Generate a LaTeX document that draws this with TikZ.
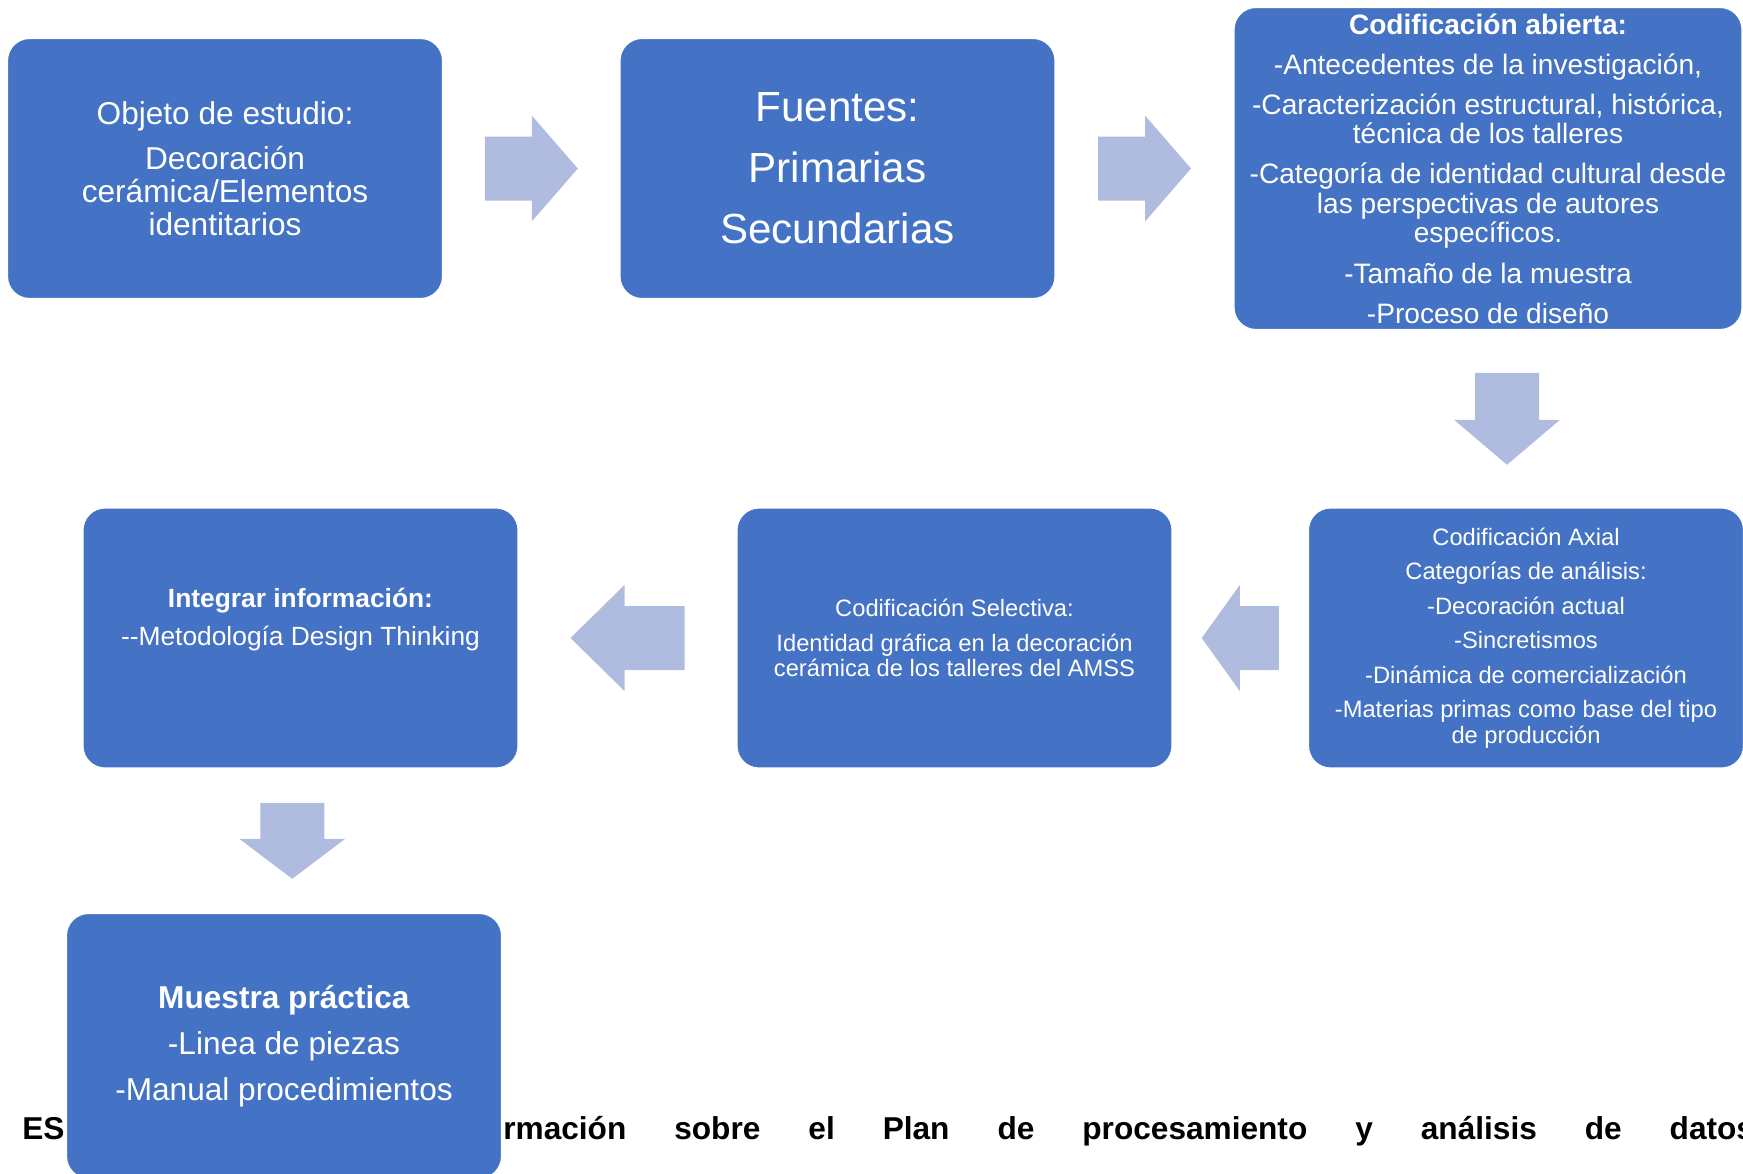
\documentclass[tikz,border=0pt]{standalone}
\usepackage{fontspec}
\setmainfont{Liberation Sans}
\usetikzlibrary{calc}

\definecolor{boxblue}{HTML}{4472C4}
\definecolor{arrowfill}{RGB}{176,188,223}

\tikzset{
  box/.style={draw=white, line width=0.6pt, fill=boxblue, rounded corners=0.44cm,
    text=white, align=center, minimum width=8.7cm, minimum height=5.2cm, inner sep=2pt},
  caption/.style={font=\fontsize{18}{20}\selectfont\bfseries, inner sep=0pt, anchor=base west},
  pics/blockarr/.style 2 args={code={
    \fill[arrowfill] (-#1/2,-32) -- (#1/2-#2,-32) -- (#1/2-#2,-53) -- (#1/2,0)
      -- (#1/2-#2,53) -- (#1/2-#2,32) -- (-#1/2,32) -- cycle;
  }}
}

\begin{document}
\begin{tikzpicture}[x=0.02cm, y=-0.02cm]
        \useasboundingbox (0,0) rectangle (1743,1173);

        % caption line, partly hidden by the last box
        \node[caption] (capl) at (22,1139) {ES};
        \node[caption] (capr) at (503,1139) {\hbox to 25.02cm{rmación\hfill sobre\hfill el\hfill Plan\hfill de\hfill procesamiento\hfill y\hfill análisis\hfill de\hfill datos}};

        % first row
        \node[box, font=\fontsize{18}{18.7}\selectfont] (obj) at (225,168.5)
            {Objeto de estudio:\\[7.3pt] Decoración\\ cerámica/Elementos\\ identitarios};
        \node[box, font=\fontsize{24}{34.7}\selectfont] (fuentes) at (837.5,168.5)
            {Fuentes:\\ Primarias\\ Secundarias};
        \node[box, minimum width=10.16cm, minimum height=6.44cm, font=\fontsize{16}{16.8}\selectfont] (abierta) at (1488,168.5)
            {\textbf{Codificación abierta:}\\[6pt]
             -Antecedentes de la investigación,\\[6pt]
             -Caracterización estructural, histórica,\\ técnica de los talleres\\[6pt]
             -Categoría de identidad cultural desde\\ las perspectivas de autores\\ específicos.\\[6pt]
             -Tamaño de la muestra\\[6pt]
             -Proceso de diseño};

        % second row
        \node[box, font=\fontsize{13.5}{14.6}\selectfont] (axial) at (1526,638)
            {Codificación Axial\\[5pt] Categorías de análisis:\\[5pt] -Decoración actual\\[5pt]
             -Sincretismos\\[5pt] -Dinámica de comercialización\\[5pt]
             -Materias primas como base del tipo\\ de producción};
        \node[box, font=\fontsize{13.5}{14.2}\selectfont] (selectiva) at (954.5,638)
            {Codificación Selectiva:\\[5.5pt] Identidad gráfica en la decoración\\ cerámica de los talleres del AMSS};
        \node[box, font=\fontsize{15}{21.5}\selectfont] (integrar) at (300.5,638)
            {\textbf{Integrar información:}\\ -{}-Metodología Design Thinking\rule[-24pt]{0pt}{24pt}};

        % last box, running off the bottom edge
        \node[box, minimum height=5.3cm, font=\fontsize{18}{26.2}\selectfont] (muestra) at (284,1046)
            {\textbf{Muestra práctica}\\ -Linea de piezas\\ -Manual procedimientos};

        % block arrows
        \pic at ($(obj.east)!0.5!(fuentes.west)$) {blockarr={93}{46}};
        \pic at ($(fuentes.east)!0.5!(abierta.west)$) {blockarr={93}{46}};
        \pic[rotate=-90] at ($(abierta.south)!0.5!(axial.north)$) {blockarr={92}{45}};
        \pic[rotate=180] at ($(axial.west)!0.5!(selectiva.east)$) {blockarr={77}{38}};
        \pic[rotate=180] at ($(selectiva.west)!0.5!(integrar.east)$) {blockarr={114}{54}};
        \pic[rotate=-90] at ($(integrar.south)!0.5!(muestra.north)$) {blockarr={76}{40}};
\end{tikzpicture}
\end{document}
